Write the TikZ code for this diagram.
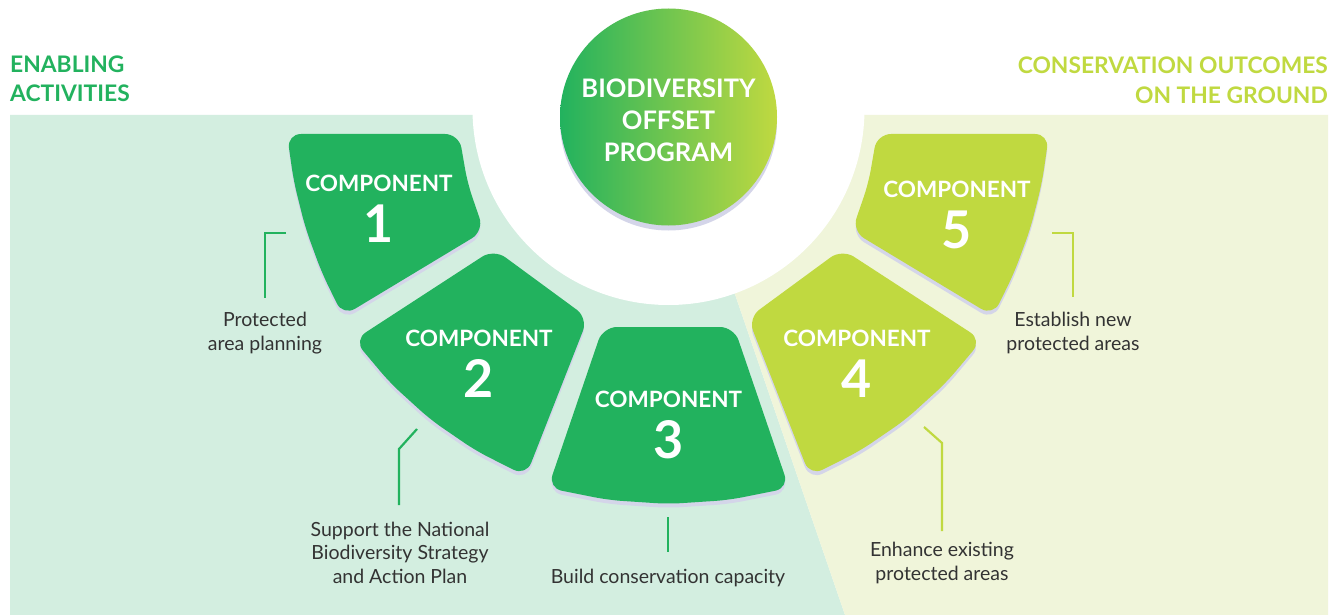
\documentclass[tikz,border=0pt]{standalone}
\usepackage{fontspec}
\setmainfont{Lato}
\definecolor{cgreen}{HTML}{22B25E}
\definecolor{clime}{HTML}{C0D940}
\definecolor{pgreen}{HTML}{D3EEE0}
\definecolor{plime}{HTML}{F0F5DA}
\definecolor{cshadow}{HTML}{D4D5E9}
\definecolor{ctext}{HTML}{333333}
\begin{document}
\begin{tikzpicture}[x=1pt,y=-1pt,
  compshape/.style={rounded corners=14pt},
  shadowshape/.style={fill=cshadow,rounded corners=14pt,shift={(0,4)}},
  comptext/.style={text=white,font=\bfseries\fontsize{22.5}{51}\selectfont,align=center,anchor=base,inner sep=0pt},
  lbl/.style={text=ctext,font=\fontsize{19.5}{23.5}\selectfont,align=center,anchor=base,inner sep=0pt},
  head/.style={font=\bfseries\fontsize{22.8}{29.5}\selectfont,inner sep=0pt},
  conn/.style={line width=2.2pt}]
\useasboundingbox (0,0) rectangle (1338,615);
\fill[white] (0,0) rectangle (1338,615);
% panels
\fill[pgreen] (10,115) -- (673.5,115) -- (845,615) -- (10,615) -- cycle;
\fill[plime] (673.5,115) -- (1328,115) -- (1328,615) -- (845,615) -- cycle;
\fill[white] (668.5,109) circle[radius=196pt];
% shapes
\def\shapeone{(287,134) -- (459,134) -- (467.6,183.5) -- (484,231) -- (343,316) -- (321.8,272.7) -- (305.4,228) -- (293.8,181.7) -- cycle}
\def\shapetwo{(494,249) -- (588,318) -- (526,476) -- (476,450.8) -- (430.7,419.8) -- (390,382.8) -- (354,340) -- cycle}
\def\shapethree{(603,327) -- (734,327) -- (789,488) -- (728.75,500) -- (668.5,504) -- (608.25,500) -- (548,488) -- cycle}
\fill[shadowshape] \shapeone;
\fill[shadowshape] \shapetwo;
\fill[shadowshape] \shapethree;
\fill[cgreen,compshape] \shapeone;
\fill[cgreen,compshape] \shapetwo;
\fill[cgreen,compshape] \shapethree;
\begin{scope}[shift={(1336,0)},xscale=-1]
\fill[shadowshape] \shapeone;
\fill[shadowshape] \shapetwo;
\fill[clime,compshape] \shapeone;
\fill[clime,compshape] \shapetwo;
\end{scope}
% centre circle
\fill[cshadow] (668.5,122) circle[radius=108.5pt];
\shade[left color=cgreen,right color=clime] (668.5,117) circle[radius=108.5pt];
\node[text=white,font=\bfseries\fontsize{25.5}{32}\selectfont,align=center,anchor=base,inner sep=0pt] (prog) at (668.5,161) {BIODIVERSITY\\OFFSET\\PROGRAM};
% component texts
\node[comptext] (c1) at (379,242) {COMPONENT\\{\fontsize{52}{52}\selectfont 1}};
\node[comptext] (c2) at (479,397) {COMPONENT\\{\fontsize{52}{52}\selectfont 2}};
\node[comptext] (c3) at (668.5,458) {COMPONENT\\{\fontsize{52}{52}\selectfont 3}};
\node[comptext] (c4) at (857,397) {COMPONENT\\{\fontsize{52}{52}\selectfont 4}};
\node[comptext] (c5) at (957,248) {COMPONENT\\{\fontsize{52}{52}\selectfont 5}};
% headings
\node[head,text=cgreen,align=left,anchor=base west] (hl) at (10,102) {ENABLING\\ACTIVITIES};
\node[head,text=clime,align=right,anchor=base east] (hr) at (1328,103.5) {CONSERVATION OUTCOMES\\ON THE GROUND};
% labels
\node[lbl] (t1) at (265,350) {Protected\\area planning};
\node[lbl] (t2) at (400,583) {Support the National\\Biodiversity Strategy\\and Action Plan};
\node[lbl] (t3) at (668,583) {Build conservation capacity};
\node[lbl] (t4) at (942,580) {Enhance existing\\protected areas};
\node[lbl] (t5) at (1073,350) {Establish new\\protected areas};
% connectors
\coordinate (a1) at (286,233); \coordinate (b1) at (265,233); \coordinate (e1) at (265,298);
\coordinate (a2) at (417,429); \coordinate (b2) at (399,449); \coordinate (e2) at (399,505);
\coordinate (a3) at (668,517); \coordinate (e3) at (668,552);
\coordinate (a4) at (924,427); \coordinate (b4) at (942,443); \coordinate (e4) at (942,531);
\coordinate (a5) at (1052,233); \coordinate (b5) at (1073,233); \coordinate (e5) at (1073,297);
\draw[conn,cgreen] (a1) -- (b1) -- (e1);
\draw[conn,cgreen] (a2) -- (b2) -- (e2);
\draw[conn,cgreen] (a3) -- (e3);
\draw[conn,clime] (a4) -- (b4) -- (e4);
\draw[conn,clime] (a5) -- (b5) -- (e5);
\end{tikzpicture}
\end{document}
